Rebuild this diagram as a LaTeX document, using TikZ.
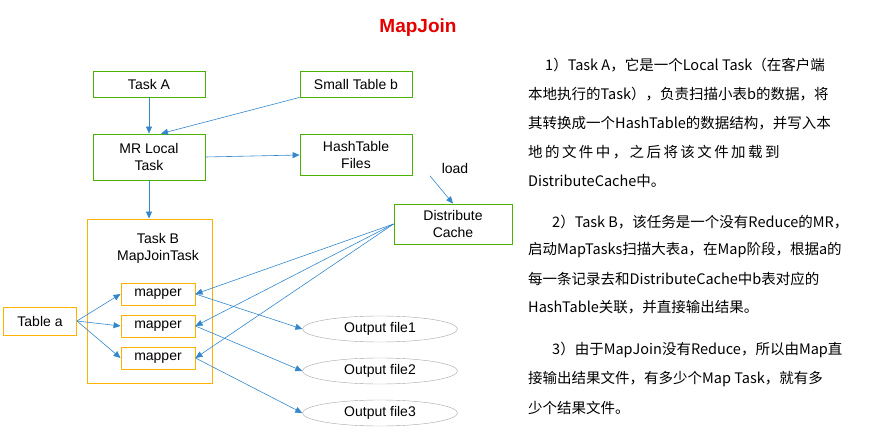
\documentclass[tikz,border=0pt]{standalone}
\usepackage{fontspec}
\setmainfont{Liberation Sans}
\newfontfamily\cjk{Noto Sans CJK SC}
\usetikzlibrary{arrows.meta,shapes.geometric,calc}
\begin{document}
\begin{tikzpicture}[x=1pt,y=-1pt,
  gbox/.style={draw=green!50!black!60!lime,fill=white,line width=0.8pt,minimum width=112pt,align=center,font=\fontsize{14}{17}\selectfont,inner sep=0pt},
  ybox/.style={draw=orange!60!yellow,line width=0.9pt,minimum width=74pt,minimum height=22pt,inner sep=0pt,font=\fontsize{14}{17}\selectfont},
  oval/.style={draw=gray!70,ellipse,minimum width=155pt,minimum height=26pt,inner sep=0pt,font=\fontsize{14}{17}\selectfont},
  arr/.style={draw=blue!45!cyan!60!gray,-{Triangle[length=7pt,width=6pt]},line width=0.6pt},
  txt/.style={anchor=west,inner sep=0pt,font=\cjk\fontsize{14.5}{17}\selectfont}]
\useasboundingbox (0,0) rectangle (887,436);
\node[font=\bfseries\fontsize{19}{22}\selectfont,text=red!90!black] (title) at (418,28) {MapJoin};
\node[gbox,minimum height=26pt] (ta) at (149,84) {Task A};
\node[gbox,minimum height=26pt] (sb) at (356,84) {Small Table b};
\node[gbox,minimum height=46pt] (mr) at (149,157) {MR Local\\Task};
\node[gbox,minimum height=41pt] (hf) at (356,155) {HashTable\\Files};
\node[gbox,minimum width=118pt,minimum height=40pt] (dc) at (453,224) {Distribute\\Cache};
\node[draw=orange!60!yellow,line width=0.9pt,minimum width=125pt,minimum height=164pt,inner sep=0pt] (tb) at (149.5,301) {};
\node[align=center,font=\fontsize{14}{17}\selectfont] (tbl) at (158,248) {Task B\\MapJoinTask};
\node[ybox] (m1) at (158,294) {mapper};
\node[ybox] (m2) at (158,326) {mapper};
\node[ybox] (m3) at (158,358) {mapper};
\node[draw=orange!60!yellow,line width=0.9pt,minimum width=73pt,minimum height=28pt,inner sep=0pt,font=\fontsize{14}{17}\selectfont] (tabla) at (40,321) {Table a};
\node[oval] (o1) at (380,329) {Output file1};
\node[oval] (o2) at (380,371) {Output file2};
\node[oval] (o3) at (380,413) {Output file3};
\node[font=\fontsize{14}{17}\selectfont] (load) at (455,168) {load};
\draw[arr] (ta) -- (mr);
\draw[arr] (sb.south west) -- ($(mr.north)+(12,0)$);
\draw[arr] (mr.east) -- (hf.west);
\draw[arr] ($(hf.south)+(74,0)$) -- (dc.north);
\draw[arr] (mr) -- (tb.north -| mr);
\draw[arr] (dc.west) -- (m1.east);
\draw[arr] (dc.west) -- (m2.east);
\draw[arr] (dc.west) -- (m3.east);
\draw[arr] (tabla.east) -- (m1.west);
\draw[arr] (tabla.east) -- (m2.west);
\draw[arr] (tabla.east) -- (m3.west);
\draw[arr] (m1.east) -- (o1.west);
\draw[arr] (m2.east) -- (o2.west);
\draw[arr] (m3.east) -- (o3.west);
\node[txt] (l1) at (545,65) {1）Task A，它是一个Local Task（在客户端};
\node[txt] (l2) at (528,94) {本地执行的Task），负责扫描小表b的数据，将};
\node[txt] (l3) at (528,123) {其转换成一个HashTable的数据结构，并写入本};
\node[txt] (l4) at (528,152) {地\,的\,文\,件\,中\,，\,之\,后\,将\,该\,文\,件\,加\,载\,到};
\node[txt] (l5) at (528,181) {DistributeCache中。};
\node[txt] (l6) at (552,222) {2）Task B，该任务是一个没有Reduce的MR，};
\node[txt] (l7) at (528,250) {启动MapTasks扫描大表a，在Map阶段，根据a的};
\node[txt] (l8) at (528,279) {每一条记录去和DistributeCache中b表对应的};
\node[txt] (l9) at (528,307) {HashTable关联，并直接输出结果。};
\node[txt] (l10) at (552,350) {3）由于MapJoin没有Reduce，所以由Map直};
\node[txt] (l11) at (528,379) {接输出结果文件，有多少个Map Task，就有多};
\node[txt] (l12) at (528,408) {少个结果文件。};
\end{tikzpicture}
\end{document}
